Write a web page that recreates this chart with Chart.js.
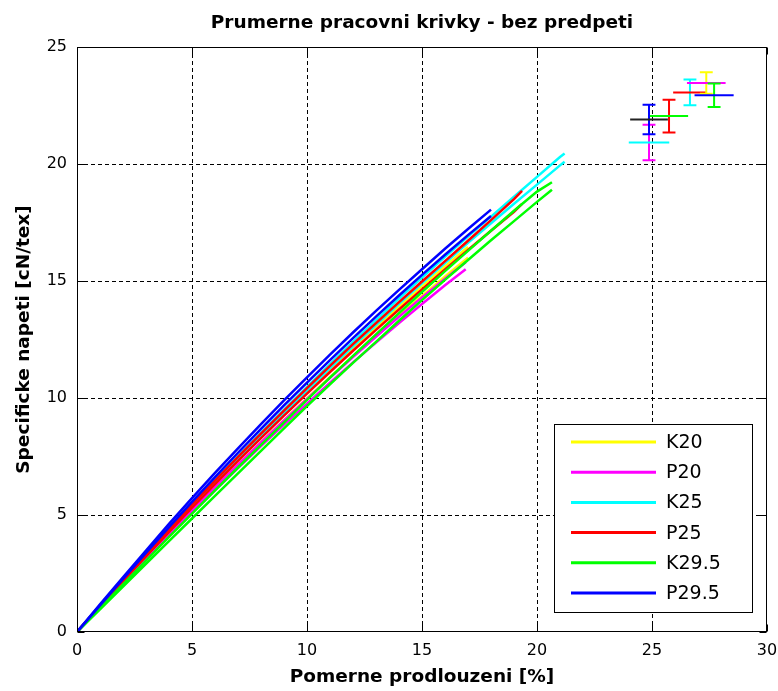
<!DOCTYPE html>
<html><head><meta charset="utf-8">
<script src="https://cdn.jsdelivr.net/npm/chart.js@4/dist/chart.umd.min.js"></script>
<style>html,body{margin:0;padding:0;background:#fff}</style>
</head><body>
<canvas id="c" width="778" height="691" style="display:block;width:778px;height:691px"></canvas>
<script>
// ---------- DATA ----------
const chartTitle = 'Prumerne pracovni krivky - bez predpeti';
const xLabel = 'Pomerne prodlouzeni [%]';
const yLabel = 'Specificke napeti [cN/tex]';
const xTicks = [0, 5, 10, 15, 20, 25, 30];
const yTicks = [0, 5, 10, 15, 20, 25];

const seriesNames  = ['K20', 'P20', 'K25', 'P25', 'K29.5', 'P29.5'];
const seriesColors = ['#ffff00', '#ff00ff', '#00ffff', '#ff0000', '#00ff00', '#0000ff'];

// K20 (yellow)
const K20_x  = [0,1,2,3,4,5,6,7,8,9,10,11,12,13,14,15,16,17];
const K20_y1 = [0,1.10,2.18,3.25,4.30,5.34,6.36,7.36,8.35,9.32,10.27,11.20,12.12,13.02,13.90,14.77,15.62,16.45];
const K20_y2 = [0,1.07,2.12,3.16,4.18,5.19,6.18,7.15,8.11,9.05,9.98,10.89,11.78,12.66,13.52,14.36,15.19,16.00];
// P20 (magenta)
const P20_x  = [0,1,2,3,4,5,6,7,8,9,10,11,12,13,14,15,16,16.9];
const P20_y1 = [0,1.08,2.14,3.18,4.20,5.20,6.18,7.15,8.10,9.04,9.96,10.86,11.75,12.62,13.47,14.30,15.10,15.80];
const P20_y2 = [0,1.05,2.08,3.10,4.10,5.08,6.05,7.00,7.94,8.86,9.76,10.65,11.52,12.37,13.20,14.02,14.82,15.50];
// K25 (cyan)
const K25_x  = [0,1,2,3,4,5,6,7,8,9,10,11,12,13,14,15,16,17,18,19,20,21,21.2];
const K25_y1 = [0,1.12,2.22,3.32,4.40,5.46,6.50,7.52,8.52,9.50,10.48,11.45,12.40,13.33,14.25,15.15,16.03,16.90,17.75,18.60,19.45,20.30,20.45];
const K25_y2 = [0,1.10,2.18,3.26,4.32,5.37,6.40,7.41,8.40,9.37,10.33,11.28,12.21,13.12,14.02,14.90,15.77,16.63,17.47,18.30,19.12,19.94,20.10];
// P25 (red)
const P25_x  = [0,1,2,3,4,5,6,7,8,9,10,11,12,13,14,15,16,17,18,19,19.35];
const P25_y1 = [0,1.12,2.22,3.30,4.38,5.44,6.47,7.48,8.48,9.46,10.42,11.37,12.30,13.20,14.10,14.98,15.85,16.72,17.60,18.50,18.85];
const P25_y2 = [0,1.10,2.17,3.23,4.28,5.31,6.32,7.31,8.29,9.25,10.19,11.11,12.02,12.91,13.78,14.64,15.49,16.33,17.15,17.96,18.30];
// K29.5 (green)
const K295_x  = [0,1,2,3,4,5,6,7,8,9,10,11,12,13,14,15,16,17,18,19,20,20.65];
const K295_y1 = [0,1.02,2.04,3.05,4.06,5.06,6.05,7.03,8.00,8.96,9.92,10.87,11.80,12.72,13.63,14.53,15.42,16.29,17.15,18.00,18.82,19.22];
const K295_y2 = [0,0.97,1.94,2.91,3.88,4.85,5.82,6.78,7.74,8.70,9.65,10.58,11.50,12.40,13.30,14.18,15.05,15.90,16.74,17.56,18.38,18.90];
// P29.5 (blue)
const P295_x  = [0,1,2,3,4,5,6,7,8,9,10,11,12,13,14,15,16,17,18];
const P295_y1 = [0,1.18,2.34,3.48,4.62,5.72,6.80,7.85,8.88,9.90,10.88,11.85,12.80,13.72,14.62,15.50,16.38,17.22,18.05];
const P295_y2 = [0,1.14,2.27,3.38,4.48,5.56,6.62,7.66,8.68,9.68,10.66,11.62,12.56,13.48,14.38,15.26,16.12,16.96,17.78];

const curveSets = [
  [K20_x, K20_y1, K20_y2],
  [P20_x, P20_y1, P20_y2],
  [K25_x, K25_y1, K25_y2],
  [P25_x, P25_y1, P25_y2],
  [K295_x, K295_y1, K295_y2],
  [P295_x, P295_y1, P295_y2]
];

// break points (mean) with error bars
const errX     = [24.87, 24.87, 25.74, 26.65, 27.36, 27.70];
const errY     = [20.92, 21.90, 22.05, 23.06, 23.46, 22.94];
const errYHalf = [0.76, 0.63, 0.70, 0.55, 0.46, 0.50];
const errXHalf = [0.88, 0.82, 0.83, 0.73, 0.84, 0.85];
const errVColors = ['#ff00ff', '#0000ff', '#ff0000', '#00ffff', '#ffff00', '#00ff00'];
const errHColors = ['#00ffff', '#222222', '#00ff00', '#ff0000', '#ff00ff', '#0000ff'];

// ---------- BUILD ----------
const CAP = 0.28;
const datasets = [];
curveSets.forEach((set, i) => {
  const xs = set[0];
  for (let k = 1; k < set.length; k++) {
    const ys = set[k];
    datasets.push({
      data: xs.map((v, j) => ({x: v, y: ys[j]})),
      borderColor: seriesColors[i], backgroundColor: seriesColors[i],
      borderWidth: 2.5, pointRadius: 0, showLine: true, order: -(i * 10 + k)
    });
  }
});
errX.forEach((cx, k) => {
  const cy = errY[k], e = errYHalf[k], h = errXHalf[k];
  datasets.push({
    data: [{x: cx, y: cy - e}, {x: cx, y: cy + e}, {x: cx, y: null},
           {x: cx - CAP, y: cy + e}, {x: cx + CAP, y: cy + e}, {x: cx, y: null},
           {x: cx - CAP, y: cy - e}, {x: cx + CAP, y: cy - e}],
    borderColor: errVColors[k], borderWidth: 2, pointRadius: 0, showLine: true, spanGaps: false, order: -200 - 2 * k
  });
  datasets.push({
    data: [{x: cx - h, y: cy}, {x: cx + h, y: cy}],
    borderColor: errHColors[k], borderWidth: 2, pointRadius: 0, showLine: true, order: -201 - 2 * k
  });
});

const FONT = "'DejaVu Sans', sans-serif";

const matlabPlugin = {
  id: 'matlab',
  beforeDatasetsDraw(chart) {
    const {ctx, chartArea: a, scales: {x, y}} = chart;
    ctx.save();
    ctx.strokeStyle = '#000'; ctx.lineWidth = 1; ctx.setLineDash([4, 3]);
    xTicks.forEach(v => {
      if (v <= x.min || v >= x.max) return;
      const p = Math.round(x.getPixelForValue(v)) + 0.5;
      ctx.beginPath(); ctx.moveTo(p, a.top); ctx.lineTo(p, a.bottom); ctx.stroke();
    });
    yTicks.forEach(v => {
      if (v <= y.min || v >= y.max) return;
      const p = Math.round(y.getPixelForValue(v)) + 0.5;
      ctx.beginPath(); ctx.moveTo(a.left, p); ctx.lineTo(a.right, p); ctx.stroke();
    });
    ctx.restore();
  },
  afterDatasetsDraw(chart) {
    const {ctx, chartArea: a, scales: {x, y}} = chart;
    ctx.save();
    ctx.setLineDash([]);
    ctx.strokeStyle = '#000'; ctx.lineWidth = 1;
    const L = Math.round(a.left) + 0.5, R = Math.round(a.right) - 0.5;
    const T = Math.round(a.top) + 0.5, B = Math.round(a.bottom) - 0.5;
    ctx.strokeRect(L, T, R - L, B - T);
    const TL = 7;
    ctx.beginPath();
    xTicks.forEach(v => {
      const p = Math.round(x.getPixelForValue(v)) + 0.5;
      ctx.moveTo(p, B); ctx.lineTo(p, B - TL);
      ctx.moveTo(p, T); ctx.lineTo(p, T + TL);
    });
    yTicks.forEach(v => {
      const p = Math.round(y.getPixelForValue(v)) + 0.5;
      ctx.moveTo(L, p); ctx.lineTo(L + TL, p);
      ctx.moveTo(R, p); ctx.lineTo(R - TL, p);
    });
    ctx.stroke();

    // legend
    const lx = 554.5, ly = 424.5, lw = 198, lh = 188;
    ctx.fillStyle = '#fff';
    ctx.fillRect(lx, ly, lw, lh);
    ctx.strokeRect(lx, ly, lw, lh);
    ctx.font = '19px ' + FONT;
    ctx.textBaseline = 'middle';
    ctx.textAlign = 'left';
    seriesNames.forEach((n, i) => {
      const yy = 442 + i * 30.2;
      ctx.strokeStyle = seriesColors[i]; ctx.lineWidth = 3;
      ctx.beginPath(); ctx.moveTo(571, yy); ctx.lineTo(656, yy); ctx.stroke();
      ctx.fillStyle = '#000';
      ctx.fillText(n, 666, yy + 1);
    });
    ctx.restore();
  },
  afterDraw(chart) {
    const {ctx, chartArea: a} = chart;
    ctx.save();
    ctx.fillStyle = '#000';
    ctx.textAlign = 'center'; ctx.textBaseline = 'middle';
    ctx.font = 'bold 18.5px ' + FONT;
    ctx.fillText(chartTitle, (a.left + a.right) / 2, 23);
    ctx.fillText(xLabel, (a.left + a.right) / 2, 677);
    ctx.translate(24, (a.top + a.bottom) / 2);
    ctx.rotate(-Math.PI / 2);
    ctx.fillText(yLabel, 0, 0);
    ctx.restore();
  }
};

new Chart(document.getElementById('c'), {
  type: 'scatter',
  data: {datasets},
  options: {
    responsive: false, animation: false, devicePixelRatio: 1,
    layout: {padding: {top: 47, right: 11, left: 0, bottom: 0}},
    plugins: {legend: {display: false}, tooltip: {enabled: false}, title: {display: false}},
    scales: {
      x: {
        type: 'linear', min: 0, max: 30,
        afterBuildTicks(s) { s.ticks = xTicks.map(v => ({value: v})); },
        afterFit(s) { s.height = 59; s.paddingLeft = 0; s.paddingRight = 0; },
        ticks: {color: '#000', font: {family: FONT, size: 16}, padding: 9, maxRotation: 0},
        grid: {display: false, drawTicks: false}, border: {display: false}
      },
      y: {
        type: 'linear', min: 0, max: 25,
        afterBuildTicks(s) { s.ticks = yTicks.map(v => ({value: v})); },
        afterFit(s) { s.width = 77; s.paddingTop = 0; s.paddingBottom = 0; },
        ticks: {color: '#000', font: {family: FONT, size: 16}, padding: 10},
        grid: {display: false, drawTicks: false}, border: {display: false}
      }
    }
  },
  plugins: [matlabPlugin]
});
</script>
</body></html>
